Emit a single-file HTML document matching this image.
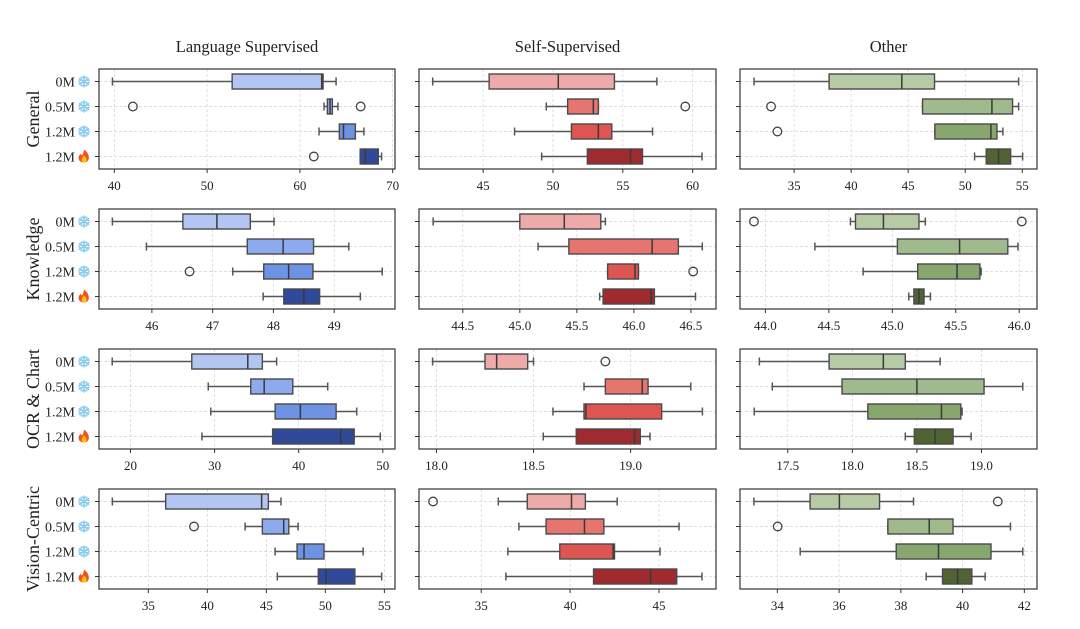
<!DOCTYPE html>
<html><head><meta charset="utf-8">
<style>
html,body{margin:0;padding:0;background:#fff;}
svg{display:block;}
text{font-family:"Liberation Serif",serif;fill:#222;}
</style></head>
<body>
<svg id="chart" width="1080" height="629" viewBox="0 0 1080 629" xmlns="http://www.w3.org/2000/svg"></svg>
<script>
// categories
const categories = ["0M","0.5M","1.2M","1.2M"];
const categoryIcons = ["snow","snow","snow","fire"];
const colTitles = ["Language Supervised","Self-Supervised","Other"];
const rowTitles = ["General","Knowledge","OCR & Chart","Vision-Centric"];

// stats per box: [whiskerLo, q1, median, q3, whiskerHi]
const genLang = [[39.8,52.7,62.35,62.5,63.9],[62.6,62.96,63.25,63.5,64.1],[62.06,64.25,64.7,65.98,66.9],[66.5,66.5,67.05,68.45,68.8]];
const genLangOut = [[],[42.0,66.55],[],[61.5]];
const genSelf = [[41.39,45.43,50.38,54.4,57.44],[49.52,51.05,52.89,53.25,53.25],[47.25,51.32,53.25,54.21,57.13],[49.19,52.46,55.55,56.41,60.67]];
const genSelfOut = [[],[59.47],[],[]];
const genOther = [[31.49,38.07,44.44,47.31,54.68],[46.26,46.26,52.34,54.15,54.68],[47.34,47.34,52.25,52.78,53.3],[50.82,51.84,52.92,53.98,55.03]];
const genOtherOut = [[],[32.98],[33.54],[]];

const knowLang = [[45.35,46.51,47.07,47.62,48.01],[45.91,47.57,48.16,48.66,49.24],[47.33,47.84,48.25,48.65,49.79],[47.83,48.17,48.5,48.76,49.43]];
const knowLangOut = [[],[],[46.62],[]];
const knowSelf = [[44.24,45.0,45.39,45.71,45.75],[45.16,45.43,46.16,46.39,46.6],[45.77,45.77,46.01,46.04,46.04],[45.7,45.73,46.15,46.18,46.54]];
const knowSelfOut = [[],[],[46.52],[]];
const knowOther = [[44.67,44.71,44.93,45.21,45.26],[44.39,45.04,45.53,45.91,45.99],[44.77,45.2,45.51,45.69,45.7],[45.13,45.17,45.21,45.25,45.3]];
const knowOtherOut = [[43.91,46.02],[],[],[]];

const ocrLang = [[17.83,27.29,33.95,35.68,37.38],[29.25,34.3,35.9,39.3,43.45],[29.55,37.2,40.2,44.45,46.9],[28.5,36.9,45.0,46.6,49.7]];
const ocrLangOut = [[],[],[],[]];
const ocrSelf = [[17.98,18.25,18.31,18.47,18.5],[18.76,18.87,19.06,19.09,19.31],[18.6,18.76,18.77,19.16,19.37],[18.55,18.72,19.02,19.05,19.1]];
const ocrSelfOut = [[18.87],[],[],[]];
const ocrOther = [[17.28,17.82,18.24,18.41,18.68],[17.38,17.92,18.5,19.02,19.32],[17.24,18.12,18.69,18.84,18.85],[18.41,18.48,18.64,18.78,18.92]];
const ocrOtherOut = [[],[],[],[]];

const visLang = [[31.95,36.47,44.6,45.17,46.24],[43.2,44.66,46.47,46.9,47.69],[45.74,47.6,48.19,49.88,53.2],[45.93,49.4,50.06,52.5,54.77]];
const visLangOut = [[],[38.87],[],[]];
const visSelf = [[35.96,37.59,40.08,40.86,42.65],[37.12,38.65,40.81,41.9,46.13],[36.5,39.42,42.42,42.5,45.06],[36.39,41.32,44.53,46.0,47.42]];
const visSelfOut = [[32.29],[],[],[]];
const visOther = [[33.24,35.06,36.01,37.31,38.41],[37.58,37.58,38.92,39.69,41.55],[34.74,37.85,39.22,40.92,41.95],[38.82,39.35,39.84,40.3,40.73]];
const visOtherOut = [[41.14],[34.01],[],[]];

// x-axis domains and ticks
const genLangDom=[38.35,70.25], genLangTicks=[40,50,60,70];
const genSelfDom=[40.41,61.67], genSelfTicks=[45,50,55,60];
const genOtherDom=[30.26,56.29], genOtherTicks=[35,40,45,50,55];
const knowLangDom=[45.13,50.0], knowLangTicks=[46,47,48,49];
const knowSelfDom=[44.116,46.72], knowSelfTicks=[44.5,45.0,45.5,46.0,46.5];
const knowOtherDom=[43.8,46.14], knowOtherTicks=[44.0,44.5,45.0,45.5,46.0];
const ocrLangDom=[16.26,51.45], ocrLangTicks=[20,30,40,50];
const ocrSelfDom=[17.91,19.44], ocrSelfTicks=[18.0,18.5,19.0];
const ocrOtherDom=[17.13,19.43], ocrOtherTicks=[17.5,18.0,18.5,19.0];
const visLangDom=[30.82,55.9], visLangTicks=[35,40,45,50,55];
const visSelfDom=[31.5,48.21], visSelfTicks=[35,40,45];
const visOtherDom=[32.79,42.41], visOtherTicks=[34,36,38,40,42];

const panels = [
 [[genLang,genLangOut,genLangDom,genLangTicks,0],[genSelf,genSelfOut,genSelfDom,genSelfTicks,0],[genOther,genOtherOut,genOtherDom,genOtherTicks,0]],
 [[knowLang,knowLangOut,knowLangDom,knowLangTicks,0],[knowSelf,knowSelfOut,knowSelfDom,knowSelfTicks,1],[knowOther,knowOtherOut,knowOtherDom,knowOtherTicks,1]],
 [[ocrLang,ocrLangOut,ocrLangDom,ocrLangTicks,0],[ocrSelf,ocrSelfOut,ocrSelfDom,ocrSelfTicks,1],[ocrOther,ocrOtherOut,ocrOtherDom,ocrOtherTicks,1]],
 [[visLang,visLangOut,visLangDom,visLangTicks,0],[visSelf,visSelfOut,visSelfDom,visSelfTicks,0],[visOther,visOtherOut,visOtherDom,visOtherTicks,0]]
];
const palettes = [["#b3c6f2","#8eaaee","#6e92e4","#30499a"],["#eeaaa8","#e6756f","#df5552","#9f2b2f"],["#b6caa6","#9fba8c","#88a76e","#4f6432"]];

const svg = document.getElementById('chart');
const NS = "http://www.w3.org/2000/svg";
function el(tag, attrs, parent){const e=document.createElementNS(NS,tag);for(const k in attrs)e.setAttribute(k,attrs[k]);(parent||svg).appendChild(e);return e;}

const colX = [[99,395],[419,716],[740,1037]];
const rowY = [69,209,349,489];
const PH = 100, BAND = 25;

colTitles.forEach((t,c)=>{
  const e=el('text',{x:(colX[c][0]+colX[c][1])/2,y:52,'text-anchor':'middle','font-size':16.5});
  e.textContent=t;
  
  
});
rowTitles.forEach((t,r)=>{
  const cy=rowY[r]+PH/2;
  const e=el('text',{x:0,y:0,'text-anchor':'middle','font-size':18,transform:`translate(39,${cy}) rotate(-90)`});
  e.textContent=t;
  
  
});

function drawIcon(type,cx,cy){
  if(type==='snow'){
    const g=el('g',{});
    
    
    for(let a=0;a<3;a++){
      el('line',{x1:cx,y1:cy-6,x2:cx,y2:cy+6,stroke:'#8ccbef','stroke-width':1.6,transform:`rotate(${a*60} ${cx} ${cy})`},g);
      el('line',{x1:cx-2.5,y1:cy-5,x2:cx,y2:cy-3,stroke:'#8ccbef','stroke-width':1.2,transform:`rotate(${a*60} ${cx} ${cy})`},g);
      el('line',{x1:cx+2.5,y1:cy-5,x2:cx,y2:cy-3,stroke:'#8ccbef','stroke-width':1.2,transform:`rotate(${a*60} ${cx} ${cy})`},g);
      el('line',{x1:cx-2.5,y1:cy+5,x2:cx,y2:cy+3,stroke:'#8ccbef','stroke-width':1.2,transform:`rotate(${a*60} ${cx} ${cy})`},g);
      el('line',{x1:cx+2.5,y1:cy+5,x2:cx,y2:cy+3,stroke:'#8ccbef','stroke-width':1.2,transform:`rotate(${a*60} ${cx} ${cy})`},g);
    }
  } else {
    const g=el('g',{});
    
    
    el('path',{d:`M${cx} ${cy-7} C${cx+7} ${cy-2} ${cx+6} ${cy+6} ${cx} ${cy+6} C${cx-6} ${cy+6} ${cx-7} ${cy} ${cx-3} ${cy-3} C${cx-3} ${cy} ${cx-1} ${cy} ${cx} ${cy-7}Z`,fill:'#f4511e'},g);
    el('path',{d:`M${cx} ${cy-1} C${cx+4} ${cy+2} ${cx+3} ${cy+6} ${cx} ${cy+6} C${cx-3} ${cy+6} ${cx-3} ${cy+2} ${cx} ${cy-1}Z`,fill:'#ffc107'},g);
  }
}

panels.forEach((row,r)=>{
  row.forEach((p,c)=>{
    const [stats,outs,dom,ticks,dec]=p;
    const x0=colX[c][0], x1=colX[c][1], y0=rowY[r];
    const xs=v=>x0+(v-dom[0])/(dom[1]-dom[0])*(x1-x0);
    const ys=i=>y0+BAND/2+i*BAND;
    const g=el('g',{});
    
    
    ticks.forEach(t=>{
      el('line',{x1:xs(t),x2:xs(t),y1:y0,y2:y0+PH,stroke:'#d4d4d4','stroke-width':0.7,'stroke-dasharray':'3,2'},g);
      el('line',{x1:xs(t),x2:xs(t),y1:y0+PH,y2:y0+PH+4,stroke:'#333','stroke-width':1},g);
      const tl=el('text',{x:xs(t),y:y0+PH+21,'text-anchor':'middle','font-size':13},g);
      tl.textContent=t.toFixed(dec);
      
      
    });
    categories.forEach((cat,i)=>{
      el('line',{x1:x0,x2:x1,y1:ys(i),y2:ys(i),stroke:'#d4d4d4','stroke-width':0.7,'stroke-dasharray':'3,2'},g);
      el('line',{x1:x0-4,x2:x0,y1:ys(i),y2:ys(i),stroke:'#333','stroke-width':1},g);
      if(c===0){
        const tl=el('text',{x:75,y:ys(i)+5,'text-anchor':'end','font-size':14},g);
        tl.textContent=cat;
        
        
        drawIcon(categoryIcons[i],84,ys(i));
      }
    });
    stats.forEach((s,i)=>{
      const [lo,q1,md,q3,hi]=s;
      const cy=ys(i), h=15;
      const b=el('g',{},g);
      
      
      el('line',{x1:xs(lo),x2:xs(q1),y1:cy,y2:cy,stroke:'#555','stroke-width':1.5},b);
      el('line',{x1:xs(q3),x2:xs(hi),y1:cy,y2:cy,stroke:'#555','stroke-width':1.5},b);
      el('line',{x1:xs(lo),x2:xs(lo),y1:cy-4,y2:cy+4,stroke:'#555','stroke-width':1.5},b);
      el('line',{x1:xs(hi),x2:xs(hi),y1:cy-4,y2:cy+4,stroke:'#555','stroke-width':1.5},b);
      el('rect',{x:xs(q1),y:cy-h/2,width:Math.max(0.5,xs(q3)-xs(q1)),height:h,fill:palettes[c][i],stroke:'#4a4a4a','stroke-width':1.4},b);
      el('line',{x1:xs(md),x2:xs(md),y1:cy-h/2,y2:cy+h/2,stroke:'#3a3a3a','stroke-width':1.5},b);
      outs[i].forEach(o=>{
        const oc=el('circle',{cx:xs(o),cy:cy,r:4.3,fill:'none',stroke:'#444','stroke-width':1.3},b);
        
        
      });
    });
    el('rect',{x:x0,y:y0,width:x1-x0,height:PH,fill:'none',stroke:'#333','stroke-width':1.2},g);
  });
});
</script>
</body></html>
